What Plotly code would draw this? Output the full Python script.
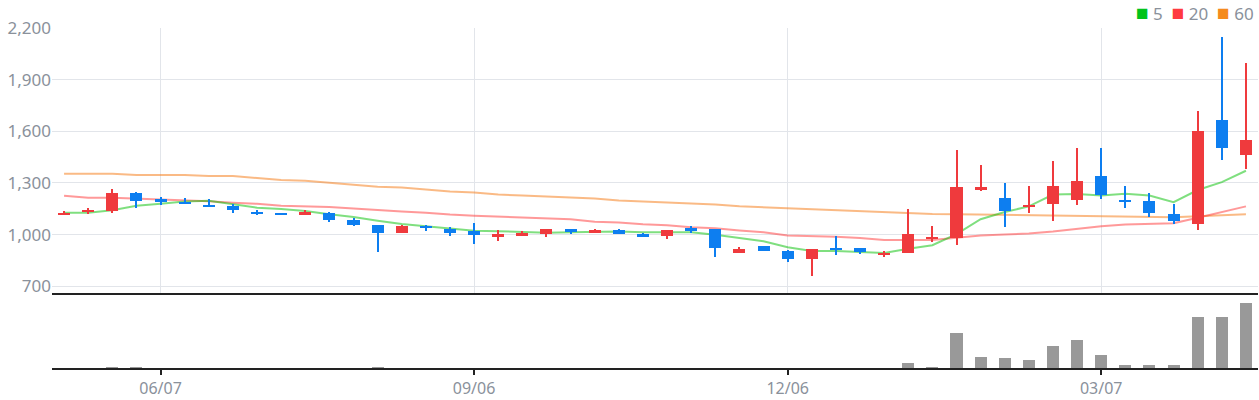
import plotly.graph_objects as go
import pandas as pd

# ---------------- data ----------------
dates = pd.date_range("2024-05-10", periods=50, freq="7D").strftime("%Y-%m-%d").tolist()

opens = [1116, 1133, 1135, 1242, 1206, 1192, 1173, 1167, 1133, 1127,
         1116, 1127, 1087, 1053, 1008, 1049, 1035, 1020, 985, 997,
         1003, 1030, 1014, 1024, 1001, 991, 1037, 1030, 894, 932,
         903, 859, 920, 920, 883, 894, 972, 980, 1261, 1213,
         1163, 1175, 1200, 1340, 1202, 1196, 1122, 1060, 1667, 1462]
highs = [1139, 1152, 1265, 1250, 1219, 1210, 1204, 1175, 1141, 1128,
         1145, 1133, 1095, 1053, 1058, 1058, 1043, 1070, 1024, 1018,
         1030, 1030, 1030, 1030, 1008, 1024, 1052, 1030, 926, 932,
         911, 915, 989, 920, 903, 1150, 1052, 1489, 1403, 1300,
         1283, 1426, 1501, 1501, 1283, 1242, 1180, 1719, 2150, 2000]
lows = [1114, 1121, 1127, 1156, 1173, 1179, 1162, 1127, 1114, 1116,
        1116, 1075, 1052, 897, 1008, 1020, 991, 945, 962, 997,
        985, 1003, 1008, 1003, 985, 974, 1008, 870, 894, 905,
        842, 761, 883, 888, 870, 893, 957, 940, 1256, 1043,
        1124, 1077, 1171, 1204, 1153, 1101, 1060, 1026, 1434, 1380]
closes = [1127, 1144, 1242, 1198, 1192, 1179, 1162, 1141, 1121, 1117,
          1133, 1083, 1053, 1008, 1047, 1037, 1008, 997, 1001, 1008,
          1030, 1020, 1024, 1003, 991, 1024, 1026, 922, 915, 905,
          859, 915, 911, 899, 894, 1001, 985, 1277, 1277, 1135,
          1173, 1283, 1312, 1233, 1192, 1124, 1078, 1604, 1503, 1552]
volumes = [0, 0, 3, 3, 0, 0, 0, 0, 0, 0,
           0, 0, 0, 3, 0, 0, 0, 0, 0, 0,
           0, 0, 0, 0, 0, 0, 0, 0, 0, 0,
           0, 0, 0, 0, 0, 16, 4, 106, 34, 31,
           25, 67, 85, 40, 10, 10, 10, 154, 154, 196]

ma5 = [1127, 1127, 1142, 1167, 1179, 1192, 1196, 1175, 1156, 1148,
       1137, 1118, 1102, 1081, 1062, 1049, 1035, 1022, 1020, 1016,
       1010, 1014, 1018, 1018, 1014, 1014, 1014, 999, 980, 961,
       926, 905, 905, 901, 893, 918, 938, 1003, 1089, 1131,
       1164, 1233, 1236, 1227, 1238, 1227, 1188, 1259, 1305, 1371]
ma20 = [1225, 1214, 1214, 1210, 1204, 1200, 1194, 1185, 1179, 1167,
        1164, 1160, 1152, 1141, 1134, 1127, 1116, 1110, 1104, 1098,
        1095, 1089, 1075, 1070, 1060, 1054, 1043, 1037, 1024, 1014,
        995, 992, 987, 980, 968, 968, 968, 981, 995, 1001,
        1006, 1018, 1035, 1049, 1058, 1060, 1066, 1098, 1131, 1164]
ma60 = [1353, 1353, 1353, 1347, 1347, 1347, 1341, 1341, 1329, 1318,
        1313, 1301, 1290, 1278, 1273, 1262, 1250, 1244, 1233, 1227,
        1221, 1215, 1210, 1198, 1192, 1187, 1181, 1175, 1164, 1158,
        1152, 1147, 1142, 1137, 1131, 1125, 1120, 1118, 1116, 1112,
        1110, 1110, 1110, 1106, 1104, 1104, 1101, 1106, 1112, 1118]

tick_dates = ["2024-06-07", "2024-09-06", "2024-12-06", "2025-03-07"]
tick_labels = ["06/07", "09/06", "12/06", "03/07"]
price_ticks = [700, 1000, 1300, 1600, 1900, 2200]

# ---------------- styles ----------------
UP = "#ef3a3d"
DOWN = "#0d7ef0"
GRAY_TXT = "#8a919b"
GRID = "#e2e5ea"
AXIS = "#222222"
FONT = "Noto Sans"
WEEK_MS = 7 * 24 * 3600 * 1000

colors = [UP if c >= o else DOWN for o, c in zip(opens, closes)]
body_base = [min(o, c) for o, c in zip(opens, closes)]
body_len = [max(abs(c - o), 1) for o, c in zip(opens, closes)]
wick_len = [h - l for h, l in zip(highs, lows)]

fig = go.Figure()

# moving averages (main price subplot)
for vals, col in [(ma60, "rgba(245,130,32,0.55)"), (ma20, "rgba(255,51,51,0.5)"), (ma5, "rgba(0,192,0,0.5)")]:
    fig.add_trace(go.Scatter(x=dates, y=vals, mode="lines", line=dict(color=col, width=2),
                             xaxis="x", yaxis="y", showlegend=False, hoverinfo="skip"))

# candles (overlay subplot so they sit above the lines)
fig.add_trace(go.Bar(x=dates, y=wick_len, base=lows, width=WEEK_MS * 0.083,
                     marker=dict(color=colors, line=dict(width=0)),
                     xaxis="x3", yaxis="y3", showlegend=False))
fig.add_trace(go.Bar(x=dates, y=body_len, base=body_base, width=WEEK_MS * 0.5,
                     marker=dict(color=colors, line=dict(width=0)),
                     xaxis="x3", yaxis="y3", showlegend=False))

# volume
fig.add_trace(go.Bar(x=dates, y=volumes, width=WEEK_MS * 0.5,
                     marker=dict(color="#999999", line=dict(width=0)),
                     xaxis="x2", yaxis="y2", showlegend=False))

x0 = pd.Timestamp(dates[0]) - pd.Timedelta(days=3.5)
x1 = pd.Timestamp(dates[-1]) + pd.Timedelta(days=3.5)
xr = [x0.strftime("%Y-%m-%d %H:%M"), x1.strftime("%Y-%m-%d %H:%M")]
yr = [661, 2201]
split = 76 / 344

fig.update_layout(
    width=1259, height=400,
    margin=dict(l=52, r=1, t=28, b=28),
    paper_bgcolor="white", plot_bgcolor="white",
    barmode="overlay", bargap=0,
    font=dict(family=FONT, color=GRAY_TXT, size=16),
    showlegend=False,
    xaxis=dict(domain=[0, 1], anchor="y", type="date", range=xr,
               tickvals=tick_dates, showticklabels=False, ticks="",
               showgrid=True, gridcolor=GRID, gridwidth=1,
               showline=True, linecolor=AXIS, linewidth=2, zeroline=False),
    yaxis=dict(domain=[split, 1], anchor="x", range=yr, tickvals=price_ticks,
               tickformat=",", showgrid=True, gridcolor=GRID, gridwidth=1,
               zeroline=False, showline=False, ticks="",
               tickfont=dict(family=FONT, size=17, color=GRAY_TXT)),
    xaxis3=dict(overlaying="x", anchor="y3", type="date", range=xr, visible=False),
    yaxis3=dict(overlaying="y", anchor="x3", range=yr, visible=False),
    xaxis2=dict(domain=[0, 1], anchor="y2", type="date", range=xr,
                tickvals=tick_dates, ticktext=tick_labels,
                ticks="outside", ticklen=5, tickwidth=2, tickcolor=AXIS,
                showgrid=False, showline=True, linecolor=AXIS, linewidth=2,
                zeroline=False, tickfont=dict(family=FONT, size=16, color=GRAY_TXT)),
    yaxis2=dict(domain=[0, split], anchor="x2", range=[0, 226],
                showticklabels=False, showgrid=False, zeroline=False, ticks=""),
)

legend_text = ('<span style="color:#00c31c;font-size:21px">■</span> 5&nbsp; '
               '<span style="color:#ff3a3f;font-size:21px">■</span> 20&nbsp; '
               '<span style="color:#f58a1f;font-size:21px">■</span> 60')
fig.add_annotation(text=legend_text, xref="paper", yref="paper", x=1, y=1,
                   xanchor="right", yanchor="middle", yshift=16, xshift=-2,
                   showarrow=False, font=dict(family=FONT, size=17, color=GRAY_TXT))

fig.write_html("out.html", config={"displayModeBar": False},
               post_script="document.body.style.margin='0';document.body.style.overflow='hidden';")
